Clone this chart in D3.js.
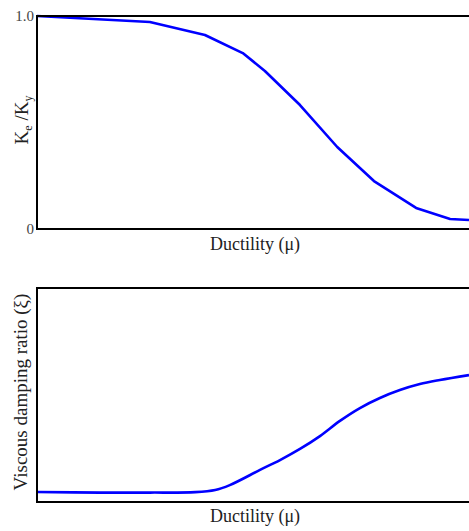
<!DOCTYPE html>
<html>
<head>
<meta charset="utf-8">
<script src="https://cdn.jsdelivr.net/npm/d3@7"></script>
<style>
  html, body { margin: 0; padding: 0; background: #fff; }
  svg { display: block; }
  text { font-family: "Liberation Serif", "DejaVu Serif", serif; fill: #222; }
</style>
</head>
<body>
<svg id="chart" width="469" height="531"></svg>
<script>
// Effective-to-yield stiffness ratio against ductility
const stiffDuctility = [1.0, 3.09, 4.11, 4.81, 5.22, 5.87, 6.56, 7.24, 8.02, 8.65, 9.0];
const stiffRatio     = [1.0, 0.972, 0.911, 0.826, 0.742, 0.582, 0.385, 0.225, 0.099, 0.047, 0.042];

// Equivalent viscous damping ratio against ductility (relative scale)
const dampDuctility = [1.0, 2.17, 3.09, 3.93, 4.30, 4.57, 5.13, 5.50, 5.87, 6.24, 6.61, 6.98, 7.35, 7.72, 8.09, 8.46, 9.0];
const dampRatio     = [0.047, 0.044, 0.044, 0.046, 0.056, 0.079, 0.150, 0.196, 0.248, 0.308, 0.379, 0.439, 0.486, 0.523, 0.551, 0.570, 0.593];

const stiffTicks = [0, 1];
const stiffTickLabels = ["0", "1.0"];

const svg = d3.select("#chart");

function panel(top, bottom, xs, ys, curve) {
  const left = 37, right = 469;
  const x = d3.scaleLinear().domain([1, 9]).range([left, right]);
  const y = d3.scaleLinear().domain([0, 1]).range([bottom, top]);
  const g = svg.append("g");
  g.append("path")
    .datum(xs.map((v, i) => [v, ys[i]]))
    .attr("fill", "none")
    .attr("stroke", "#0000ff")
    .attr("stroke-width", 2.6)
    .attr("stroke-linejoin", "round")
    .attr("d", d3.line().x(d => x(d[0])).y(d => y(d[1])).curve(curve));
  // plot frame (runs past the right edge)
  g.append("rect")
    .attr("x", left).attr("y", top)
    .attr("width", right - left + 40).attr("height", bottom - top)
    .attr("fill", "none").attr("stroke", "#000").attr("stroke-width", 2);
  return { x, y, g };
}

// Upper panel
const p1 = panel(16, 229, stiffDuctility, stiffRatio, d3.curveLinear);
p1.g.selectAll("text.tick")
  .data(stiffTicks)
  .join("text")
  .attr("class", "tick")
  .attr("x", 34)
  .attr("y", d => p1.y(d) + 5)
  .attr("text-anchor", "end")
  .attr("font-size", 15)
  .style("fill", "#444")
  .text((d, i) => stiffTickLabels[i]);

p1.g.append("text")
  .attr("x", 255).attr("y", 250)
  .attr("text-anchor", "middle").attr("font-size", 18)
  .text("Ductility (μ)");

const yl1 = p1.g.append("text")
  .attr("transform", "translate(28,120) rotate(-90)")
  .attr("text-anchor", "middle").attr("font-size", 19);
yl1.append("tspan").text("K");
yl1.append("tspan").attr("font-size", 12).attr("dy", 4).text("e");
yl1.append("tspan").attr("dy", -4).text(" /K");
yl1.append("tspan").attr("font-size", 12).attr("dy", 4).text("y");

// Lower panel
const p2 = panel(288, 502, dampDuctility, dampRatio, d3.curveCatmullRom);
p2.g.append("text")
  .attr("x", 255).attr("y", 522)
  .attr("text-anchor", "middle").attr("font-size", 18)
  .text("Ductility (μ)");
p2.g.append("text")
  .attr("transform", "translate(27,392) rotate(-90)")
  .attr("text-anchor", "middle").attr("font-size", 19)
  .text("Viscous damping ratio (ξ)");
</script>
</body>
</html>
